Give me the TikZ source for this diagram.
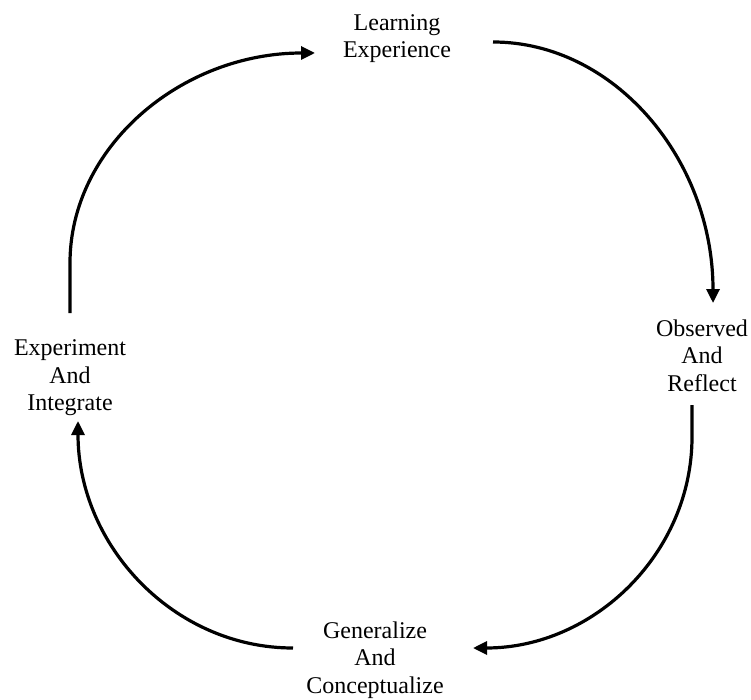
\documentclass[tikz,border=0pt]{standalone}
\usepackage{fontspec}
\setmainfont{Liberation Serif}
\usetikzlibrary{arrows.meta}
\begin{document}
\begin{tikzpicture}[x=1pt,y=-1pt,
  stage/.style={align=center,inner sep=0pt,anchor=north,
    font=\fontsize{24}{27.5}\selectfont},
  cycle/.style={line width=3.2pt,line join=round,
    -{Triangle[length=14pt,width=13pt]}}]
\useasboundingbox (0,0) rectangle (751,700);

% the four stages of the cycle
\node[stage] (learn)      at (397,14)    {Learning\\Experience};
\node[stage] (observe)    at (702,319.5) {Observed\\And\\Reflect};
\node[stage] (general)    at (375,621.5) {Generalize\\And\\Conceptualize};
\node[stage] (experiment) at (70,339.5)  {Experiment\\And\\Integrate};

% end points of the curved arrows
\coordinate (learnOut)   at (493,42);
\coordinate (observeIn)  at (713,303);
\coordinate (observeOut) at (692,405);
\coordinate (generalIn)  at (473,648);
\coordinate (generalOut) at (293,648);
\coordinate (expIn)      at (78,421);
\coordinate (expOut)     at (70,313);
\coordinate (learnIn)    at (315,53);

% clockwise cycle
\draw[cycle] (learnOut) .. controls +(121,0) and +(0,-144) .. (observeIn);
\draw[cycle] (observeOut) -- +(0,32) .. controls +(0,116) and +(121,0) .. (generalIn);
\draw[cycle] (generalOut) .. controls +(-119,0) and +(0,125) .. (expIn);
\draw[cycle] (expOut) -- +(0,-50) .. controls +(0,-116) and +(-134,0) .. (learnIn);
\end{tikzpicture}
\end{document}
